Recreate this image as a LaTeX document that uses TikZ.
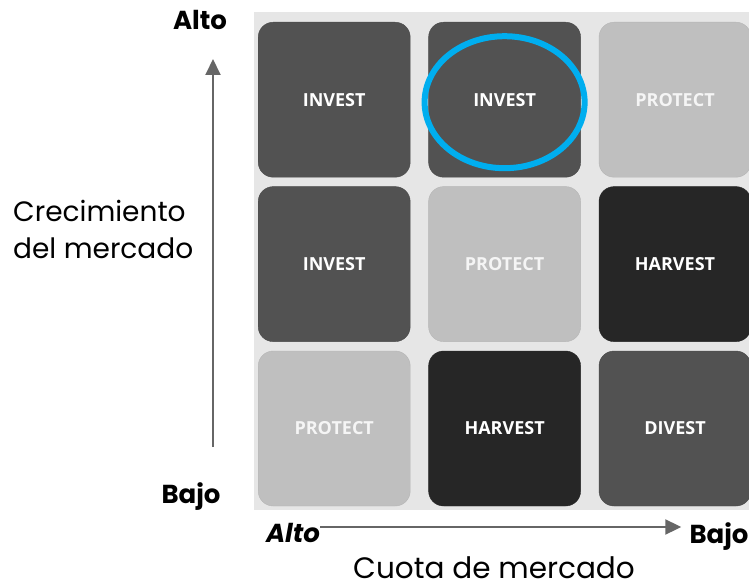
\documentclass[tikz,border=0pt]{standalone}
\usepackage{fontspec}
\setmainfont{Poppins}
\newfontfamily\cellfont{Open Sans}
\usepackage{tikz}
\usetikzlibrary{arrows.meta,positioning}

\definecolor{cellmid}{HTML}{525252}
\definecolor{celllight}{HTML}{BFBFBF}
\definecolor{celldark}{HTML}{262626}
\definecolor{panelgray}{HTML}{E6E6E6}
\definecolor{axisgray}{HTML}{666666}
\definecolor{markblue}{HTML}{00AEEF}

\begin{document}
\begin{tikzpicture}[%
            x=1pt, y=-1pt,
            cell/.style={rounded corners=15pt, minimum width=152pt, minimum height=155pt,
                inner sep=0pt, text=white, font=\cellfont\bfseries\fontsize{18}{20}\selectfont},
            mid/.style={cell, fill=cellmid, draw=cellmid!90!black},
            light/.style={cell, fill=celllight, draw=celllight!95!black, text=white!96!black},
            dark/.style={cell, fill=celldark, draw=celldark},
            axis/.style={draw=axisgray, line width=2pt, -{Triangle[length=16pt, width=15pt]}},
            endlabel/.style={inner sep=0pt, font=\bfseries\fontsize{26}{30}\selectfont},
            axislabel/.style={inner sep=0pt, font=\fontsize{28}{37}\selectfont},
        ]
        \useasboundingbox (0,0) rectangle (749,583);
        \fill[panelgray] (254,12) rectangle (749,510);

        % cells
        \node[mid, anchor=north west] (c11) at (258,22) {INVEST};
        \node[mid, right=18pt of c11] (c12) {INVEST};
        \node[light, right=18pt of c12] (c13) {PROTECT};
        \node[mid, below=9pt of c11] (c21) {INVEST};
        \node[light, right=18pt of c21] (c22) {PROTECT};
        \node[dark, right=18pt of c22] (c23) {HARVEST};
        \node[light, below=9pt of c21] (c31) {PROTECT};
        \node[dark, right=18pt of c31] (c32) {HARVEST};
        \node[mid, right=18pt of c32] (c33) {DIVEST};

        % highlight
        \draw[markblue, line width=6pt] ([yshift=-2.5pt]c12.center) ellipse [x radius=80pt, y radius=66pt];

        % growth axis
        \node[endlabel, anchor=base] (growhigh) at (200,30) {Alto};
        \node[endlabel, anchor=base] (growlow) at (191,503) {Bajo};
        \coordinate (growfrom) at (213,447);
        \coordinate (growto) at (213,59);
        \draw[axis] (growfrom) -- (growto);
        \node[axislabel, align=left, anchor=north west] (growtext) at (13,200) {Crecimiento\\del mercado};

        % share axis
        \node[endlabel, anchor=base, font=\bfseries\itshape\fontsize{26}{30}\selectfont] (sharehigh) at (293,542) {Alto};
        \node[endlabel, anchor=base] (sharelow) at (719,543) {Bajo};
        \draw[axis, shorten >=8pt] (sharehigh.east |- 0,527) -- (sharelow.west |- 0,527);
        \node[axislabel, anchor=base, font=\fontsize{29.5}{37}\selectfont] (sharetext) at (494,578.5) {Cuota de mercado};
\end{tikzpicture}
\end{document}
